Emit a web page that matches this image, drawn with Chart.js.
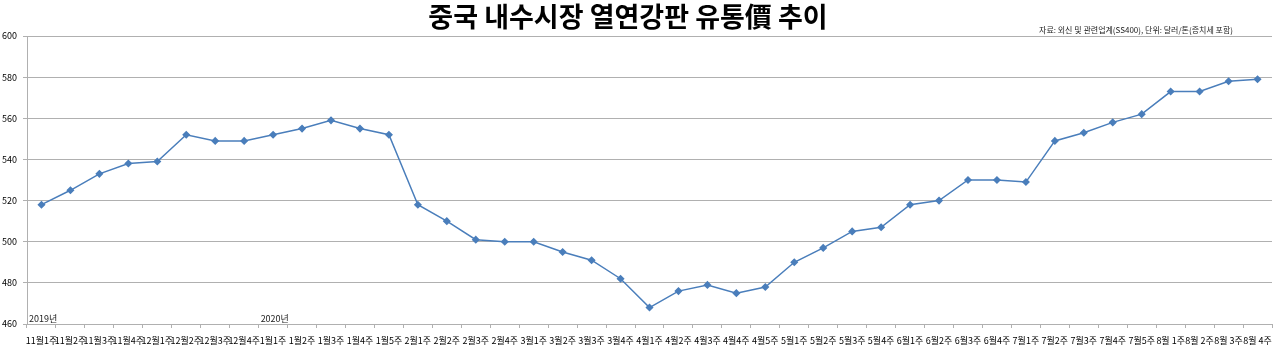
<!DOCTYPE html>
<html>
<head>
<meta charset="utf-8">
<script src="https://cdn.jsdelivr.net/npm/chart.js@4/dist/chart.umd.min.js"></script>
<style>
  html, body { margin: 0; padding: 0; background: #fff; }
  #wrap { width: 1280px; height: 347px; }
</style>
</head>
<body>
<div id="wrap"><canvas id="myChart" width="1280" height="347"></canvas></div>
<script>
const weeks = [
    '11월1주', '11월2주', '11월3주', '11월4주', '12월1주', '12월2주', '12월3주', '12월4주',
    '1월1주', '1월2주', '1월3주', '1월4주', '1월5주', '2월1주', '2월2주', '2월3주', '2월4주',
    '3월1주', '3월2주', '3월3주', '3월4주', '4월1주', '4월2주', '4월3주', '4월4주', '4월5주',
    '5월1주', '5월2주', '5월3주', '5월4주', '6월1주', '6월2주', '6월3주', '6월4주',
    '7월1주', '7월2주', '7월3주', '7월4주', '7월5주', '8월 1주', '8월 2주', '8월 3주', '8월 4주'
]

const prices = [
    518, 525, 533, 538, 539, 552, 549, 549,
    552, 555, 559, 555, 552, 518, 510, 501, 500,
    500, 495, 491, 482, 468, 476, 479, 475, 478,
    490, 497, 505, 507, 518, 520, 530, 530,
    529, 549, 553, 558, 562, 573, 573, 578, 579
]

const yearMarks = [
    { index: 0, text: '2019년' },
    { index: 8, text: '2020년' },
]

const chartTitle = '중국 내수시장 열연강판 유통價 추이'
const sourceNote = '자료: 외신 및 관련업계(SS400), 단위: 달러/톤(증치세 포함)'

const lineColor = '#4a7ebb'
const gridColor = '#b0b0b0'
const baseFont = "'Noto Sans CJK KR', 'Noto Sans', sans-serif"

// title, source note and year labels drawn on top of the chart
const extraText = {
    id: 'extraText',
    afterDraw(chart) {
        const ctx = chart.ctx
        const x = chart.scales.x
        const area = chart.chartArea
        ctx.save()
        ctx.fillStyle = '#000'
        ctx.textBaseline = 'middle'
        ctx.textAlign = 'center'
        ctx.font = `bold 27px ${baseFont}`
        ctx.fillText(chartTitle, 628, 17)

        ctx.font = `8px ${baseFont}`
        ctx.fillStyle = '#222'
        ctx.fillText(sourceNote, 1136, 30)

        ctx.textAlign = 'left'
        ctx.textBaseline = 'alphabetic'
        ctx.font = `9px ${baseFont}`
        const step = x.getPixelForValue(1) - x.getPixelForValue(0)
        yearMarks.forEach(m => {
            const left = x.getPixelForValue(m.index) - step / 2
            ctx.fillText(m.text, left + 2, area.bottom - 2)
        })
        ctx.restore()
    }
}

const config = {
    type: 'line',
    data: {
        labels: weeks,
        datasets: [{
            label: '유통가',
            data: prices,
            borderColor: lineColor,
            backgroundColor: lineColor,
            borderWidth: 1.5,
            pointStyle: 'rectRot',
            pointRadius: 3,
            pointHoverRadius: 3,
            tension: 0,
        }]
    },
    options: {
        responsive: false,
        animation: false,
        layout: { padding: { top: 36, left: 0, right: 8, bottom: 0 } },
        plugins: {
            legend: { display: false },
            title: { display: false },
            tooltip: { enabled: false },
        },
        scales: {
            x: {
                offset: true,
                grid: {
                    display: true,
                    offset: true,
                    drawOnChartArea: false,
                    drawTicks: true,
                    tickLength: 4,
                    color: gridColor,
                },
                border: { color: gridColor },
                ticks: {
                    autoSkip: false,
                    maxRotation: 0,
                    minRotation: 0,
                    padding: 7,
                    color: '#000',
                    font: { family: baseFont, size: 9 },
                },
                afterFit(scale) { scale.height = 23 },
            },
            y: {
                min: 460,
                max: 600,
                ticks: {
                    stepSize: 20,
                    color: '#000',
                    padding: 6,
                    font: { family: baseFont, size: 9 },
                },
                grid: {
                    color: gridColor,
                    drawTicks: true,
                    tickLength: 4,
                },
                border: { color: gridColor },
                afterFit(scale) { scale.width = 27 },
            }
        }
    },
    plugins: [extraText],
}

new Chart(document.getElementById('myChart'), config)
</script>
</body>
</html>
